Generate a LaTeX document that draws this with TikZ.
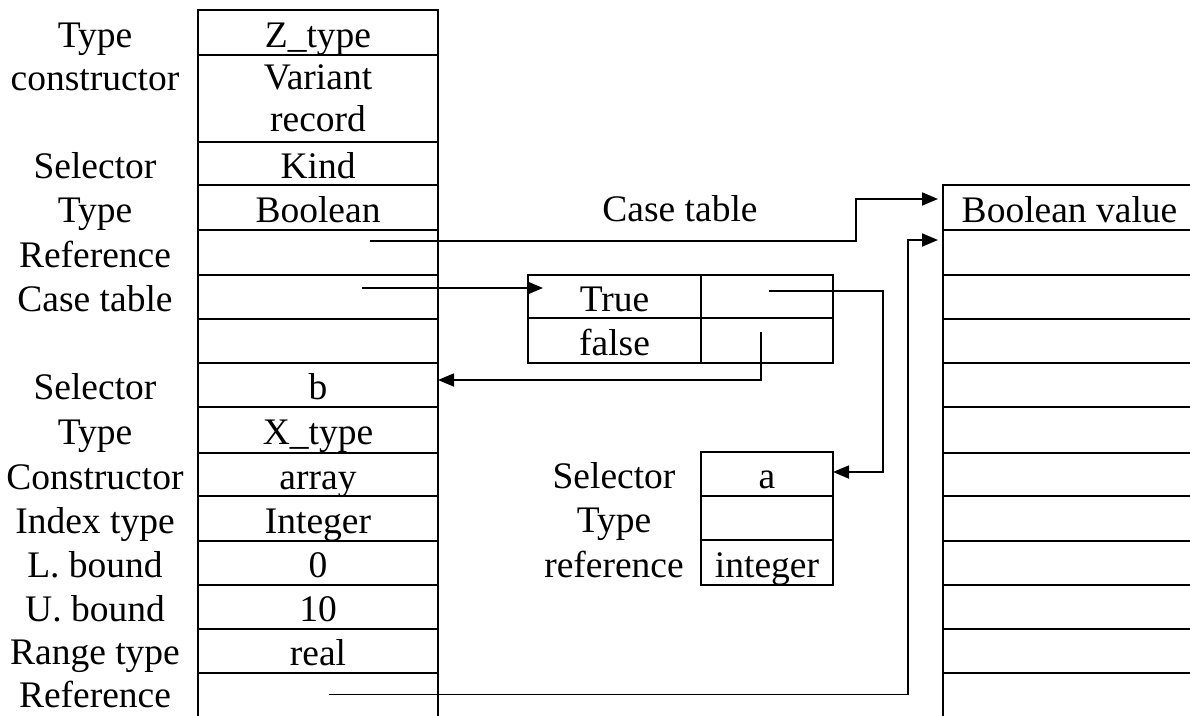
\documentclass[tikz,border=0pt]{standalone}
\usepackage{fontspec}
\setmainfont{Liberation Serif}
\usetikzlibrary{arrows.meta,calc}

\tikzset{
  every node/.style={font=\fontsize{37.5}{42}\selectfont, inner sep=0pt, outer sep=0pt},
  cellbox/.style={draw, line width=2.4pt},
  tx/.style={text height=29pt, text depth=0pt},
  cell/.style={cellbox, tx},
  lbl/.style={tx},
  conn/.style={line width=1.8pt, -{Triangle[length=16pt,width=13pt]}},
}

\begin{document}
\begin{tikzpicture}[x=1pt,y=-1pt]
\useasboundingbox (0,0) rectangle (1190,715);
\clip (0,0) rectangle (1190,715);

% ---- left record: Z_type ----
\node[cell, minimum width=240, minimum height=45] (zt) at (318,32.5) {Z\_type};
\node[cellbox, minimum width=240, minimum height=87, align=center] (vr) at (318,98.5) {Variant\\record};
\foreach \t/\b/\txt/\nm in {142/185/Kind/kind, 185/230/Boolean/zbool, 230/275//zref,
    275/319//zcase, 319/363//zblank, 363/407/b/sb, 407/453/X\_type/xt,
    453/496/array/arr, 496/541/Integer/xint, 541/585/0/lb, 585/629/10/ub,
    629/673/real/xreal, 673/720//xref}
  \node[cell, minimum width=240, minimum height={\b-\t}] (\nm) at (318,{(\t+\b)/2}) {\txt};

% ---- labels of the left record ----
\foreach \y/\txt/\nm in {32.5/Type/l1, 76/constructor/l2, 163.5/Selector/l3, 207.5/Type/l4,
    252.5/Reference/l5, 297/Case table/l6, 385/Selector/l7, 430/Type/l8,
    474.5/Constructor/l9, 518.5/Index type/l10, 563/L. bound/l11, 607/U. bound/l12,
    650/Range type/l13, 692.5/Reference/l14}
  \node[lbl] (\nm) at (95,\y) {\txt};

% ---- case table ----
\node (cttitle) [lbl] at (680,206.5) {Case table};
\node[cell, minimum width=173, minimum height=43] (ct)  at (614.5,296.5) {True};
\node[cell, minimum width=132, minimum height=43] (ctr) at (767,296.5) {};
\node[cell, minimum width=173, minimum height=45] (cf)  at (614.5,340.5) {false};
\node[cell, minimum width=132, minimum height=45] (cfr) at (767,340.5) {};

% ---- selector record a ----
\node[cell, minimum width=132, minimum height=44] (sa) at (767,474) {a};
\node[cell, minimum width=132, minimum height=44] (st) at (767,518) {};
\node[cell, minimum width=132, minimum height=45] (si) at (767,562.5) {integer};
\node[lbl] (la1) at (614,474) {Selector};
\node[lbl] (la2) at (614,518) {Type};
\node[lbl] (la3) at (614,562.5) {reference};

% ---- right column: Boolean value and its free slots ----
\node[cell, minimum width=253, minimum height=45] (bv) at (1069.5,207.5) {Boolean value};
\foreach \t/\b/\nm in {230/275/r1, 275/319/r2, 319/363/r3, 363/407/r4, 407/453/r5,
    453/496/r6, 496/541/r7, 541/585/r8, 585/629/r9, 629/673/r10, 673/720/r11}
  \node[cell, minimum width=253, minimum height={\b-\t}] (\nm) at (1069.5,{(\t+\b)/2}) {};

% ---- connectors ----
\coordinate (p1) at (370,241);
\coordinate (p2) at (329,694.5);
\coordinate (p3) at (769,291);
\coordinate (p4) at (761,332);
\coordinate (p5) at (362,288);

\draw[conn] (p1) -- (856,241) |- ([xshift=-5pt,yshift=8.5pt]bv.west);
\draw[conn] (p2) -- (908,694.5) |- ([xshift=-5pt,yshift=12.5pt]r1.west);
\draw[conn] (p5) -- ([xshift=15pt,yshift=8.5pt]ct.west);
\draw[conn] (p3) -- (883,291) |- ([yshift=2pt]sa.east);
\draw[conn] (p4) |- ([yshift=5pt]sb.east);
\end{tikzpicture}
\end{document}
